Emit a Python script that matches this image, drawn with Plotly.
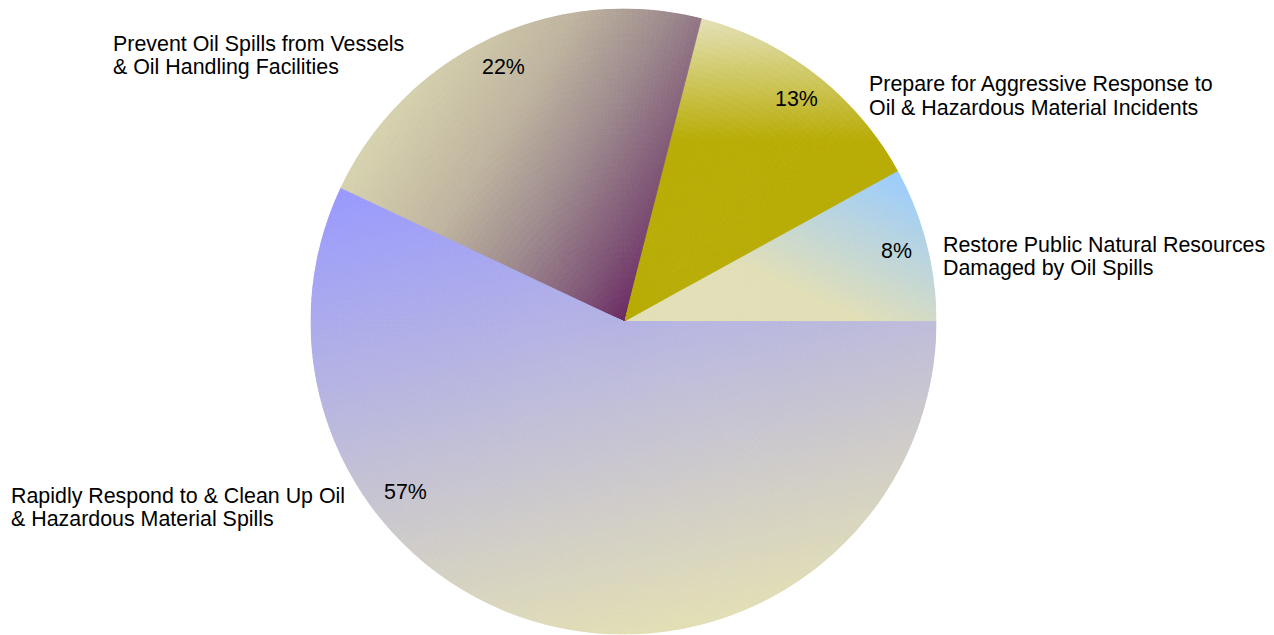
import numpy as np
import plotly.graph_objects as go

# ---- data -------------------------------------------------------------
categories = [
    "Restore Public Natural Resources Damaged by Oil Spills",
    "Prepare for Aggressive Response to Oil & Hazardous Material Incidents",
    "Prevent Oil Spills from Vessels & Oil Handling Facilities",
    "Rapidly Respond to & Clean Up Oil & Hazardous Material Spills",
]
label_lines = [
    ["Restore Public Natural Resources", "Damaged by Oil Spills"],
    ["Prepare for Aggressive Response to", "Oil & Hazardous Material Incidents"],
    ["Prevent Oil Spills from Vessels", "& Oil Handling Facilities"],
    ["Rapidly Respond to & Clean Up Oil", "& Hazardous Material Spills"],
]
shares = [8, 13, 22, 57]

# ---- styling ----------------------------------------------------------
W, H = 1274, 635
CX, CY, RAD = 623.5, 321.5, 313.0          # pie centre / radius in pixels
FONT = "Liberation Sans, Arial, sans-serif"
FSIZE = 21.4

# linear gradient per slice: screen-space direction (deg, y down) + colour stops
gradients = [
    (-65, [[0, "#E2DFB7"], [0.40, "#E2DFB7"], [1, "#99CCFF"]]),
    (90, [[0, "#E4E1B9"], [0.40, "#B8AC05"], [1, "#B8AC05"]]),
    (32, [[0, "#D7D3AF"], [0.35, "#BFB49F"], [0.60, "#9E8B8E"],
          [0.85, "#7E5475"], [1, "#6E2E66"]]),
    (78, [[0, "#9999FF"], [1, "#E3DFB5"]]),
]

# outside label placement (left edge x, cap-centre y of each line), pixels
label_pos = [
    (940.5, [244.5, 268.0]),
    (866.5, [84.5, 108.0]),
    (110.5, [43.5, 66.8]),
    (9.0, [495.5, 519.0]),
]


def px(x):
    return x / W


def py(y):
    return 1 - y / H


fig = go.Figure()

# slice angles (counter-clockwise from 3 o'clock)
total = float(sum(shares))
bounds = np.concatenate([[0.0], np.cumsum(shares) / total * 360.0])

NR = 50
DTH = 1.0
for i, v in enumerate(shares):
    a0, a1 = bounds[i], bounds[i + 1]
    nth = max(2, int(np.ceil((a1 - a0) / DTH)))
    th_edges = np.linspace(a0, a1, nth + 1)
    r_edges = np.linspace(0.0, 1.0, NR + 1)
    thc = (th_edges[:-1] + th_edges[1:]) / 2
    wth = np.diff(th_edges)
    TH, RB = np.meshgrid(thc, r_edges[:-1])
    WD = np.broadcast_to(wth, TH.shape)
    dr = 1.0 / NR
    RC = RB + dr / 2

    ang, cs = gradients[i]
    a = np.radians(ang)
    # projection on gradient direction, screen coordinates (y grows downward)
    t_rad = np.radians(TH)
    proj = RC * np.cos(t_rad) * np.cos(a) - RC * np.sin(t_rad) * np.sin(a)
    arc = np.radians(np.linspace(a0, a1, 400))
    ext = np.concatenate([[0.0], np.cos(arc + a)])
    tval = (proj - ext.min()) / (ext.max() - ext.min())
    tval = np.clip(tval, 0, 1).ravel()

    fig.add_trace(go.Barpolar(
        r=np.full(TH.size, dr),
        base=RB.ravel(),
        theta=TH.ravel(),
        width=WD.ravel(),
        marker=dict(
            color=tval, colorscale=cs, cmin=0, cmax=1, showscale=False,
            line=dict(color=tval, colorscale=cs, cmin=0, cmax=1, width=0.8),
        ),
        name=categories[i],
        hoverinfo="skip",
        showlegend=False,
    ))

annotations = []
# percentage labels inside the slices
for i, v in enumerate(shares):
    mid = (bounds[i] + bounds[i + 1]) / 2
    rf = 0.9
    if i == 3:
        # the large slice carries its label toward the lower left
        mid, rf = 218.0, 0.885
    x = CX + rf * RAD * np.cos(np.radians(mid))
    y = CY - rf * RAD * np.sin(np.radians(mid))
    annotations.append(dict(
        x=px(x), y=py(y), xref="paper", yref="paper",
        text=f"{v}%", showarrow=False, xanchor="center", yanchor="middle",
        font=dict(family=FONT, size=FSIZE, color="#000000"),
    ))

# category labels outside the pie
for lines, (lx, lys) in zip(label_lines, label_pos):
    for line, ly in zip(lines, lys):
        annotations.append(dict(
            x=px(lx), y=py(ly), xref="paper", yref="paper",
            text=line, showarrow=False, xanchor="left", yanchor="middle",
            font=dict(family=FONT, size=FSIZE, color="#000000"),
        ))

fig.update_layout(
    width=W, height=H,
    margin=dict(l=0, r=0, t=0, b=0),
    paper_bgcolor="#FFFFFF",
    plot_bgcolor="#FFFFFF",
    polar=dict(
        domain=dict(x=[px(CX - RAD), px(CX + RAD)], y=[py(CY + RAD), py(CY - RAD)]),
        bgcolor="rgba(0,0,0,0)",
        bargap=0,
        barmode="overlay",
        hole=0,
        radialaxis=dict(range=[0, 1], visible=False, showgrid=False),
        angularaxis=dict(visible=False, showgrid=False, rotation=0,
                         direction="counterclockwise"),
    ),
    annotations=annotations,
    showlegend=False,
)

fig.write_html("out.html")
